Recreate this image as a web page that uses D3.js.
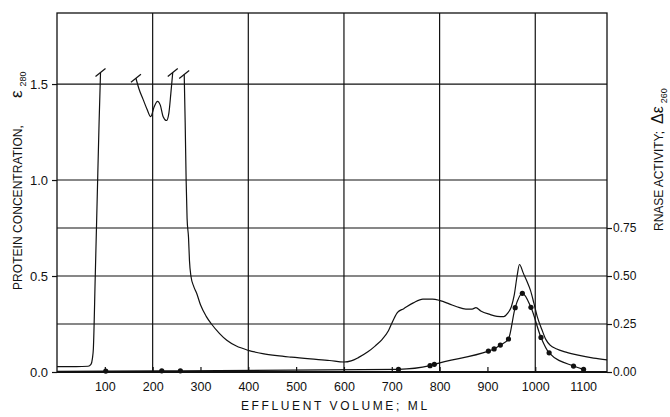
<!DOCTYPE html>
<html>
<head>
<meta charset="utf-8">
<script src="https://cdn.jsdelivr.net/npm/d3@7"></script>
<style>
  html, body { margin: 0; padding: 0; background: #fff; }
  svg { display: block; font-family: "Liberation Sans", Arial, sans-serif; }
</style>
</head>
<body>
<svg id="chart" width="670" height="417"></svg>
<script>
// ---- data ----
// Protein concentration (E280) vs effluent volume (ml), in three pieces
// separated by the off-scale portions.
const proteinSeg1Vol = [0, 40, 65, 71, 74, 76, 80, 84, 88, 91];
const proteinSeg1E   = [0.028, 0.028, 0.03, 0.04, 0.07, 0.12, 0.5, 0.9, 1.3, 1.56];

const proteinSeg2Vol = [165, 172, 180, 188, 196, 203, 210, 216, 222, 229, 234, 238, 242];
const proteinSeg2E   = [1.53, 1.47, 1.42, 1.37, 1.33, 1.38, 1.41, 1.39, 1.33, 1.31, 1.35, 1.45, 1.56];

const proteinSeg3Vol = [266, 268, 270, 272, 275, 277, 280, 286, 292, 300, 312, 323, 340, 355, 375, 400, 430, 460, 490, 530, 570, 600,
                        615, 630, 650, 665, 680, 693, 703, 712, 725, 745, 765, 785, 801, 820, 836, 855, 868, 876, 886, 905, 920, 934,
                        942, 950, 956, 962, 967, 975, 983, 990, 997, 1004, 1014, 1022, 1031, 1045, 1060, 1087, 1122, 1150];
const proteinSeg3E   = [1.55, 1.3, 1.0, 0.8, 0.7, 0.58, 0.5, 0.445, 0.41, 0.35, 0.29, 0.25, 0.2, 0.165, 0.135, 0.113, 0.096, 0.085, 0.077, 0.068, 0.06, 0.052,
                        0.058, 0.075, 0.105, 0.135, 0.17, 0.215, 0.27, 0.31, 0.33, 0.36, 0.38, 0.38, 0.372, 0.355, 0.34, 0.328, 0.328, 0.335, 0.318, 0.3, 0.29, 0.288,
                        0.305, 0.34, 0.4, 0.5, 0.56, 0.515, 0.47, 0.425, 0.36, 0.29, 0.22, 0.17, 0.14, 0.12, 0.106, 0.089, 0.072, 0.063];

// Off-scale markers (end points of the pieces that leave the scale)
const offScaleVol = [91, 165, 242, 266];
const offScaleE   = [1.56, 1.53, 1.56, 1.55];

// RNase activity (delta E260); first entry is the line start (no dot)
const rnaseVol = [0, 102, 219, 258, 714, 780, 789, 902, 914, 927, 944, 958, 973, 991, 1012, 1029, 1080, 1101];
const rnaseAct = [0.003, 0.005, 0.006, 0.006, 0.014, 0.033, 0.04, 0.109, 0.12, 0.14, 0.172, 0.335, 0.41, 0.337, 0.18, 0.1, 0.031, 0.014];

// axes
const xTickValues   = [100, 200, 300, 400, 500, 600, 700, 800, 900, 1000, 1100];
const xGridValues   = [200, 400, 600, 800, 1000];
const leftTickVals  = [0, 0.5, 1.0, 1.5];
const leftTickLabs  = ["0.0", "0.5", "1.0", "1.5"];
const rightTickVals = [0, 0.25, 0.5, 0.75];
const rightTickLabs = ["0.00", "0.25", "0.50", "0.75"];
const yGridValues   = [0.25, 0.5, 0.75, 1.0, 1.5];

// ---- drawing ----
const svg = d3.select("#chart");
const L = 57, R = 607, T = 13, B = 372;
const x = d3.scaleLinear().domain([0, 1150]).range([L, R]);
const y = d3.scaleLinear().domain([0, 1.87]).range([B, T]);
const ink = "#111";

// grid
svg.append("g").selectAll("line").data(yGridValues).join("line")
  .attr("x1", L).attr("x2", R).attr("y1", d => y(d)).attr("y2", d => y(d))
  .attr("stroke", ink).attr("stroke-width", 1.2);
svg.append("g").selectAll("line").data(xGridValues).join("line")
  .attr("x1", d => x(d)).attr("x2", d => x(d)).attr("y1", T).attr("y2", B)
  .attr("stroke", ink).attr("stroke-width", 1.2);

// frame
svg.append("rect").attr("x", L).attr("y", T).attr("width", R - L).attr("height", B - T)
  .attr("fill", "none").attr("stroke", ink).attr("stroke-width", 1.3);
svg.append("line").attr("x1", L).attr("x2", R).attr("y1", B).attr("y2", B)
  .attr("stroke", ink).attr("stroke-width", 2);

// left axis
const yl = svg.append("g").attr("transform", `translate(${L},0)`)
  .call(d3.axisLeft(y).tickValues(leftTickVals).tickFormat((d, i) => leftTickLabs[i]).tickSize(5).tickPadding(4));
yl.select(".domain").remove();
yl.selectAll("line").attr("stroke", ink).attr("stroke-width", 1.2);
yl.selectAll("text").attr("font-size", 13).attr("fill", ink).attr("font-family", "Liberation Sans, Arial, sans-serif");

// right axis
const yr = svg.append("g").attr("transform", `translate(${R},0)`)
  .call(d3.axisRight(y).tickValues(rightTickVals).tickFormat((d, i) => rightTickLabs[i]).tickSize(5).tickPadding(1));
yr.select(".domain").remove();
yr.selectAll("line").attr("stroke", ink).attr("stroke-width", 1.2);
yr.selectAll("text").attr("font-size", 12).attr("fill", ink).attr("font-family", "Liberation Sans, Arial, sans-serif");

// bottom axis: small inner ticks + labels
const xb = svg.append("g").attr("transform", `translate(0,${B})`)
  .call(d3.axisBottom(x).tickValues(xTickValues).tickFormat(d3.format("d")).tickSize(-5).tickPadding(10));
xb.select(".domain").remove();
xb.selectAll("line").attr("stroke", ink).attr("stroke-width", 1.2);
xb.selectAll("text").attr("font-size", 12.5).attr("fill", ink).attr("font-family", "Liberation Sans, Arial, sans-serif");

// protein curve
const line = d3.line().x(d => x(d[0])).y(d => y(d[1])).curve(d3.curveMonotoneX);
const segs = [
  d3.zip(proteinSeg1Vol, proteinSeg1E),
  d3.zip(proteinSeg2Vol, proteinSeg2E),
  d3.zip(proteinSeg3Vol, proteinSeg3E)
];
svg.append("g").selectAll("path").data(segs).join("path")
  .attr("d", d => line(d)).attr("fill", "none").attr("stroke", ink).attr("stroke-width", 1.2);

// off-scale marks
svg.append("g").selectAll("line").data(d3.zip(offScaleVol, offScaleE)).join("line")
  .attr("x1", d => x(d[0]) - 5).attr("y1", d => y(d[1]) + 4)
  .attr("x2", d => x(d[0]) + 5).attr("y2", d => y(d[1]) - 4)
  .attr("stroke", ink).attr("stroke-width", 1.2);

// RNase activity
const rn = d3.zip(rnaseVol, rnaseAct);
svg.append("path").attr("d", line(rn)).attr("fill", "none").attr("stroke", ink).attr("stroke-width", 1.2);
svg.append("g").selectAll("circle").data(rn.slice(1)).join("circle")
  .attr("cx", d => x(d[0])).attr("cy", d => y(d[1])).attr("r", 2.6).attr("fill", ink);

// axis titles: stretch to target length with letter-spacing
function spaced(sel, target) {
  const node = sel.node();
  const txt = sel.text();
  const nat = node.getComputedTextLength();
  const n = txt.length;
  if (n > 1) sel.attr("letter-spacing", ((target - nat) / n).toFixed(2));
  return sel;
}

spaced(svg.append("text").attr("transform", "translate(22,290) rotate(-90)")
  .attr("font-size", 12).attr("fill", ink)
  .text("PROTEIN  CONCENTRATION,"), 165);
const le = svg.append("text").attr("transform", "translate(22,98) rotate(-90)").attr("fill", ink);
le.append("tspan").text("ε").attr("font-size", 17);
le.append("tspan").text("280").attr("font-size", 9).attr("dx", 4).attr("dy", 4);

spaced(svg.append("text").attr("transform", "translate(663,231) rotate(-90)")
  .attr("font-size", 12).attr("fill", ink)
  .text("RNASE  ACTIVITY;"), 100);
const re = svg.append("text").attr("transform", "translate(663,124) rotate(-90)").attr("fill", ink);
re.append("tspan").text("Δε").attr("font-size", 16);
re.append("tspan").text("260").attr("font-size", 9).attr("dx", 3).attr("dy", 4);

spaced(svg.append("text").attr("x", 241).attr("y", 410).attr("font-size", 12).attr("fill", ink)
  .text("EFFLUENT  VOLUME;  ML"), 194);
</script>
</body>
</html>
